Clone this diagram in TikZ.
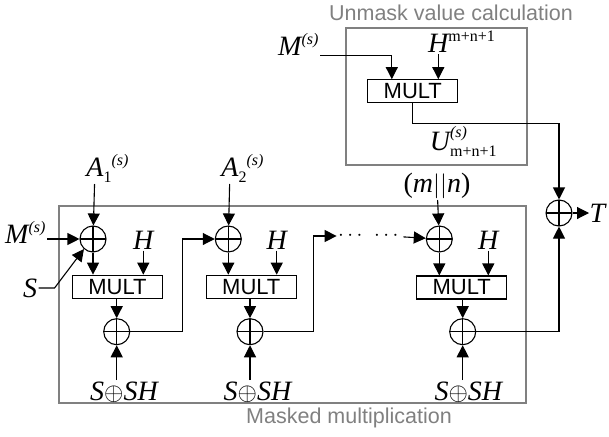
\documentclass[tikz,border=0pt]{standalone}
\usepackage{amsmath}
\usepackage{fontspec}
\setmainfont{Liberation Serif}
\newfontfamily\blocksans{Liberation Sans}
\usetikzlibrary{arrows.meta}

\newcommand{\supx}[1]{\raisebox{11pt}{\fontsize{16}{16}\selectfont #1}}
\newcommand{\subx}[1]{\raisebox{-6pt}{\fontsize{16}{16}\selectfont #1}}

\begin{document}
\begin{tikzpicture}[x=1pt,y=-1pt,line width=1.1pt,
  >={Triangle[length=12pt,width=12pt]},
  xorgate/.style={draw,circle,inner sep=0pt,minimum size=26pt,
    path picture={\draw (path picture bounding box.north) -- (path picture bounding box.south)
      (path picture bounding box.west) -- (path picture bounding box.east);}},
  multbox/.style={draw,rectangle,inner sep=0pt,minimum width=90pt,minimum height=23pt,
    font=\blocksans\fontsize{22}{22}\selectfont},
  varlbl/.style={inner sep=1pt,font=\fontsize{28}{30}\selectfont\itshape},
  grouplbl/.style={inner sep=0pt,text=black!50,font=\blocksans\fontsize{21.5}{23}\selectfont},
  groupbox/.style={draw=black!50,line width=1.3pt}]
\useasboundingbox (0,0) rectangle (609,436);

% frames
\draw[groupbox] (59,206) rectangle (526,403);
\draw[groupbox] (346,28) rectangle (527,165);
\node (mmlbl) at (349,418) [grouplbl] {Masked multiplication};
\node (uvlbl) at (451,13) [grouplbl] {Unmask value calculation};

% stage 1
\node (xa1) at (93,239) [xorgate] {};
\node (mult1) at (117.5,286.7) [multbox] {MULT};
\node (xb1) at (116.7,331.7) [xorgate] {};
\node (a1) at (95,184) [varlbl,anchor=south] {A\rlap{\subx{\upshape 1}\supx{(s)}}};
\node (h1) at (143.3,240) [varlbl] {H};
\node (sh1) at (124,392) [varlbl] {S$\oplus$SH};
\node (mlow) at (47,232) [varlbl,anchor=east] {M\supx{(s)}};
\node (slbl) at (30,288) [varlbl] {S};

% stage 2
\node (xa2) at (228.3,239) [xorgate] {};
\node (mult2) at (251.3,286.7) [multbox] {MULT};
\node (xb2) at (250,331.7) [xorgate] {};
\node (a2) at (230,184) [varlbl,anchor=south] {A\rlap{\subx{\upshape 2}\supx{(s)}}};
\node (h2) at (276.7,240) [varlbl] {H};
\node (sh2) at (257.5,392) [varlbl] {S$\oplus$SH};

% stage m+n
\node (dotsa) at (352,236) [inner sep=1pt,font=\fontsize{20}{20}\selectfont] {$\cdots$};
\node (dotsb) at (388,236) [inner sep=1pt,font=\fontsize{20}{20}\selectfont] {$\cdots$};
\node (xa3) at (439.3,239) [xorgate] {};
\node (mult3) at (461.7,287.5) [multbox] {MULT};
\node (xb3) at (462.7,331.7) [xorgate] {};
\node (mn) at (437,200) [varlbl,anchor=south] {\upshape(\textit{m}$||$\textit{n})};
\node (h3) at (488.3,240) [varlbl] {H};
\node (sh3) at (468.3,392) [varlbl] {S$\oplus$SH};

% unmask value
\node (multu) at (412.8,91.2) [multbox] {MULT};
\node (mup) at (320,44) [varlbl,anchor=east] {M\supx{(s)}};
\node (hup) at (438.3,42) [varlbl] {H\rlap{\supx{\upshape m+n+1}}};
\node (ulbl) at (440,141) [varlbl] {U\rlap{\raisebox{13pt}{\fontsize{16}{16}\selectfont(s)}}\rlap{\subx{\upshape m+n+1}}};
\node (xt) at (559,213) [xorgate] {};
\node (tlbl) at (589,213) [varlbl,anchor=west,inner sep=0pt] {T};

% connectors
\path
(a1) edge [->] (xa1)
(xa1) edge [->] (xa1 |- mult1.north)
(h1) edge [->] (h1 |- mult1.north)
(mult1.south -| xb1) edge [->] (xb1)
(sh1.north -| xb1) edge [->] (xb1)
(a2) edge [->] (xa2)
(xa2) edge [->] (xa2 |- mult2.north)
(h2) edge [->] (h2 |- mult2.north)
(mult2.south -| xb2) edge [->] (xb2)
(sh2.north -| xb2) edge [->] (xb2)
(mn) edge [->] (xa3)
(xa3) edge [->] (xa3 |- mult3.north)
(h3) edge [->] (h3 |- mult3.north)
(mult3.south -| xb3) edge [->] (xb3)
(sh3.north -| xb3) edge [->] (xb3)
(dotsb) edge [->] (xa3)
(hup) edge [->] (hup |- multu.north)
(xt) edge [->] (tlbl);

\draw[->] (mlow.east |- xa1) -- (xa1);
\draw[->] (slbl.east) -- ++(16,0) -- (xa1.228);
\draw[->] (xb1.east) -- ++(52,0) |- (xa2);
\draw[->] (xb2.east) -- ++(50,0) |- (dotsa);
\draw[->] (mup.base east) -| ([xshift=-21pt]multu.north);
\draw[->] (multu.south) -- ++(0,20.5) -| (xt);
\draw[->] (xb3.east) -| (xt);
\end{tikzpicture}
\end{document}
